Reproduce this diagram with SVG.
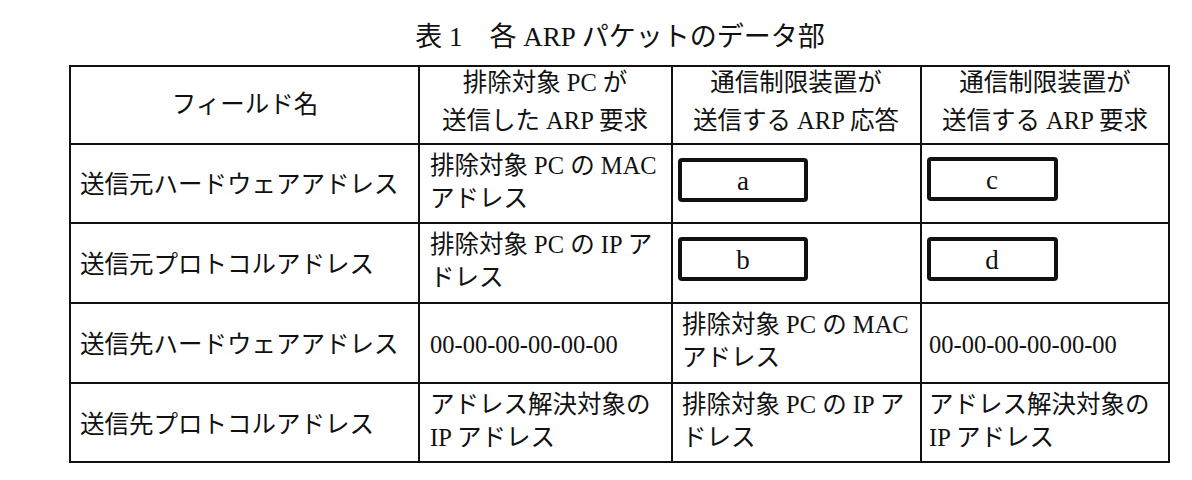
<svg xmlns="http://www.w3.org/2000/svg" width="1192" height="480" viewBox="0 0 1192 480">
<style>
text{font-family:"Liberation Serif","Noto Sans CJK JP",serif;font-size:24.5px;fill:#111}
.c{text-anchor:middle}
.l{font-size:27px}
.ln{stroke:#111;stroke-width:2;fill:none}
.bx{stroke:#111;stroke-width:4;fill:#fff}
</style>
<rect width="1192" height="480" fill="#fff"/>
<text class="c" x="620" y="46" style="font-size:27px">表 1　各 ARP パケットのデータ部</text>
<g id="grid">
<rect class="ln" x="70" y="66" width="1099" height="396"/>
<line class="ln" x1="70" y1="144" x2="1169" y2="144"/>
<line class="ln" x1="70" y1="223" x2="1169" y2="223"/>
<line class="ln" x1="70" y1="303" x2="1169" y2="303"/>
<line class="ln" x1="70" y1="383" x2="1169" y2="383"/>
<line class="ln" x1="419" y1="66" x2="419" y2="462"/>
<line class="ln" x1="672" y1="66" x2="672" y2="462"/>
<line class="ln" x1="921" y1="66" x2="921" y2="462"/>
</g>
<g id="header">
<text class="c" x="245" y="113">フィールド名</text>
<text class="c" x="545" y="91">排除対象 PC が</text>
<text class="c" x="545" y="129">送信した ARP 要求</text>
<text class="c" x="796" y="91">通信制限装置が</text>
<text class="c" x="796" y="129">送信する ARP 応答</text>
<text class="c" x="1045" y="91">通信制限装置が</text>
<text class="c" x="1045" y="129">送信する ARP 要求</text>
</g>
<g id="col0">
<text x="80" y="193">送信元ハードウェアアドレス</text>
<text x="80" y="273">送信元プロトコルアドレス</text>
<text x="80" y="353">送信先ハードウェアアドレス</text>
<text x="80" y="433">送信先プロトコルアドレス</text>
</g>
<g id="col1">
<text x="430" y="174">排除対象 PC の MAC</text>
<text x="430" y="207">アドレス</text>
<text x="430" y="253">排除対象 PC の IP ア</text>
<text x="430" y="286">ドレス</text>
<text x="430" y="353">00-00-00-00-00-00</text>
<text x="430" y="413">アドレス解決対象の</text>
<text x="430" y="446">IP アドレス</text>
</g>
<g id="col2">
<g id="a"><rect class="bx" x="680" y="160" width="126" height="40" rx="2"/><text class="c l" x="743" y="190">a</text></g>
<g id="b"><rect class="bx" x="680" y="239" width="126" height="40" rx="2"/><text class="c l" x="743" y="269">b</text></g>
<text x="682" y="333">排除対象 PC の MAC</text>
<text x="682" y="366">アドレス</text>
<text x="682" y="413">排除対象 PC の IP ア</text>
<text x="682" y="446">ドレス</text>
</g>
<g id="col3">
<g id="c"><rect class="bx" x="929" y="159" width="127" height="40" rx="2"/><text class="c l" x="992" y="189">c</text></g>
<g id="d"><rect class="bx" x="929" y="239" width="127" height="40" rx="2"/><text class="c l" x="992" y="269">d</text></g>
<text x="929" y="353">00-00-00-00-00-00</text>
<text x="929" y="413">アドレス解決対象の</text>
<text x="929" y="446">IP アドレス</text>
</g>
</svg>
